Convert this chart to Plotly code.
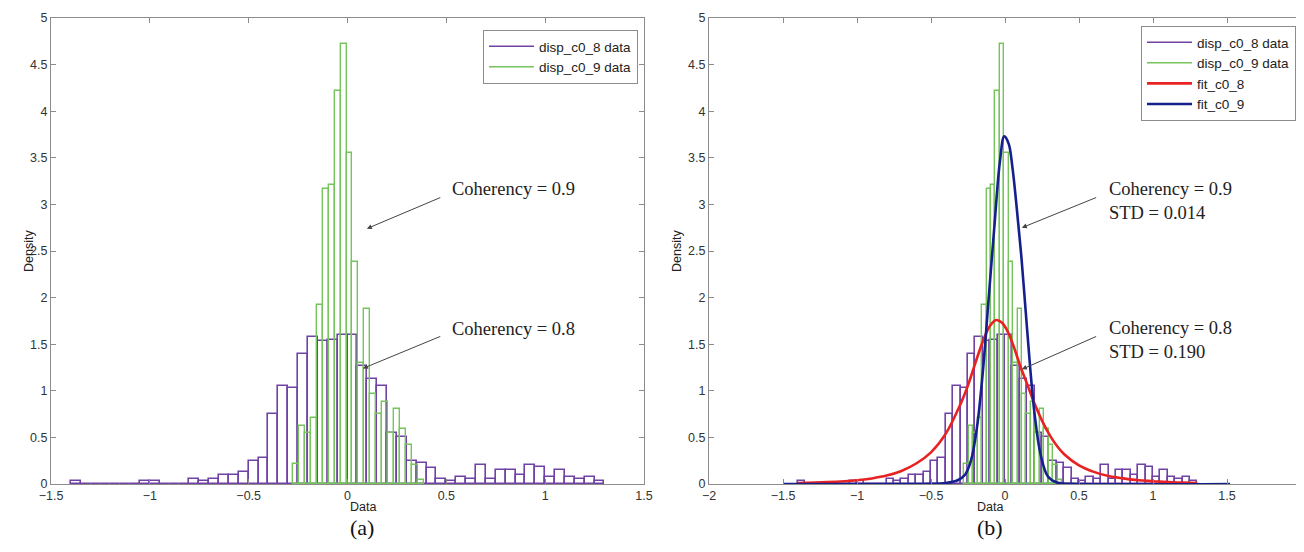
import plotly.graph_objects as go

# ---------------- data ----------------
# disp_c0_8 histogram (bin width 0.05, first edge -1.40)
c08_start = -1.40
c08_width = 0.05
c08_density = [0.03, 0, 0, 0, 0, 0, 0, 0.03, 0.03, 0, 0, 0,
               0.05, 0.03, 0.05, 0.10, 0.10, 0.13, 0.25, 0.28, 0.75, 1.05,
               1.03, 1.40, 1.58, 1.53, 1.55, 1.60, 1.60, 1.27, 1.13, 1.05,
               0.55, 0.50, 0.25, 0.23, 0.17, 0.05, 0.03, 0.08, 0.05, 0.20,
               0.05, 0.15, 0.15, 0.10, 0.20, 0.18, 0.08, 0.15, 0.08, 0.05,
               0.08, 0.03]

# disp_c0_9 histogram (bin width 0.03, first edge -0.275)
c09_start = -0.275
c09_width = 0.03
c09_density = [0.22, 0.62, 0.55, 0.71, 1.92, 3.17, 3.21, 4.22, 4.72, 3.55,
               2.38, 1.30, 1.88, 0.97, 0.75, 0.88, 0.55, 0.80, 0.59, 0.42,
               0.20, 0.04]

# fitted curves (panel b)
fit08_x = [-1.4, -1.2, -1.0, -0.9, -0.8, -0.7, -0.6, -0.5, -0.4, -0.3, -0.25,
           -0.2, -0.15, -0.1, -0.06, -0.02, 0.02, 0.06, 0.1, 0.15, 0.2, 0.25,
           0.3, 0.35, 0.4, 0.5, 0.6, 0.7, 0.8, 0.9, 1.0, 1.1, 1.2, 1.3]
fit08_y = [0.01, 0.02, 0.04, 0.06, 0.09, 0.14, 0.22, 0.34, 0.54, 0.86, 1.06,
           1.30, 1.53, 1.70, 1.76, 1.73, 1.63, 1.47, 1.28, 1.07, 0.86, 0.68,
           0.53, 0.41, 0.32, 0.20, 0.13, 0.085, 0.06, 0.04, 0.03, 0.02, 0.015,
           0.01]
fit09_x = [-1.5, -0.5, -0.4, -0.32, -0.27, -0.23, -0.19, -0.15, -0.11, -0.07,
           -0.035, -0.005, 0.025, 0.05, 0.08, 0.11, 0.14, 0.17, 0.2, 0.24,
           0.29, 0.35, 0.45, 1.52]
fit09_y = [0, 0.002, 0.01, 0.04, 0.10, 0.25, 0.60, 1.20, 2.00, 2.80, 3.45,
           3.73, 3.65, 3.40, 2.95, 2.45, 1.85, 1.25, 0.75, 0.32, 0.08, 0.015,
           0.002, 0]

legend_names = ["disp_c0_8 data", "disp_c0_9 data", "fit_c0_8", "fit_c0_9"]
y_ticks = [0, 0.5, 1, 1.5, 2, 2.5, 3, 3.5, 4, 4.5, 5]
x_ticks_a = [-1.5, -1, -0.5, 0, 0.5, 1, 1.5]
x_ticks_b = [-2, -1.5, -1, -0.5, 0, 0.5, 1, 1.5, 2]

# ---------------- styles ----------------
PURPLE = "rgb(112,66,166)"
GREEN = "rgb(118,196,92)"
RED = "rgb(232,34,34)"
BLUE = "rgb(22,32,140)"
FRAME = "rgb(140,140,140)"
W, H = 1304, 552

c08_centers = [c08_start + c08_width * (i + 0.5) for i in range(len(c08_density))]
c09_centers = [c09_start + c09_width * (i + 0.5) for i in range(len(c09_density))]

fig = go.Figure()

for xa, ya, leg in [("x", "y", "legend"), ("x2", "y2", "legend2")]:
    fig.add_trace(go.Bar(x=c08_centers, y=c08_density, width=c08_width,
                         marker=dict(color="rgba(0,0,0,0)",
                                     line=dict(color=PURPLE, width=1.6)),
                         xaxis=xa, yaxis=ya, showlegend=False, hoverinfo="skip"))
    fig.add_trace(go.Bar(x=c09_centers, y=c09_density, width=c09_width,
                         marker=dict(color="rgba(0,0,0,0)",
                                     line=dict(color=GREEN, width=1.4)),
                         xaxis=xa, yaxis=ya, showlegend=False, hoverinfo="skip"))
    fig.add_trace(go.Scatter(x=[None], y=[None], mode="lines",
                             line=dict(color=PURPLE, width=1.5),
                             name=legend_names[0], xaxis=xa, yaxis=ya, legend=leg))
    fig.add_trace(go.Scatter(x=[None], y=[None], mode="lines",
                             line=dict(color=GREEN, width=1.5),
                             name=legend_names[1], xaxis=xa, yaxis=ya, legend=leg))

fig.add_trace(go.Scatter(x=fit08_x, y=fit08_y, mode="lines",
                         line=dict(color=RED, width=2.6, shape="spline"),
                         name=legend_names[2], xaxis="x2", yaxis="y2", legend="legend2"))
fig.add_trace(go.Scatter(x=fit09_x, y=fit09_y, mode="lines",
                         line=dict(color=BLUE, width=2.6, shape="spline"),
                         name=legend_names[3], xaxis="x2", yaxis="y2", legend="legend2"))

px_x = lambda p: p / W
px_y = lambda p: (H - p) / H

L0, L1 = 43, 636      # left panel plot area (px)
R0, R1 = 701, 1293    # right panel plot area (px)
T, B = 10, 476        # top / bottom of plot areas (px)

dom_y = [px_y(B), px_y(T)]
tickfont = dict(family="Liberation Sans, Arial", size=12.5, color="#333")
axis_common = dict(showline=True, linecolor=FRAME, linewidth=1, mirror="ticks",
                   ticks="inside", ticklen=5, tickcolor=FRAME, showgrid=False,
                   zeroline=False, automargin=False, tickfont=tickfont)
legfont = dict(family="Liberation Sans, Arial", size=13.5, color="#222")

fig.update_layout(
    width=W, height=H, margin=dict(l=0, r=0, t=0, b=0, autoexpand=False),
    paper_bgcolor="white", plot_bgcolor="white", barmode="overlay", bargap=0,
    template="none",
    xaxis=dict(domain=[px_x(L0), px_x(L1)], range=[-1.5, 1.5], tickvals=x_ticks_a,
               anchor="y", **axis_common),
    yaxis=dict(domain=dom_y, range=[0, 5], tickvals=y_ticks, anchor="x", **axis_common),
    xaxis2=dict(domain=[px_x(R0), px_x(R1)], range=[-2, 2], tickvals=x_ticks_b,
                anchor="y2", **axis_common),
    yaxis2=dict(domain=dom_y, range=[0, 5], tickvals=y_ticks, anchor="x2", **axis_common),
    legend=dict(x=px_x(L1 - 6), y=px_y(T + 12), xanchor="right", yanchor="top",
                bordercolor=FRAME, borderwidth=1, bgcolor="white", font=legfont,
                tracegroupgap=0, itemwidth=45),
    legend2=dict(x=px_x(R1 - 5), y=px_y(T + 8), xanchor="right", yanchor="top",
                 bordercolor=FRAME, borderwidth=1, bgcolor="white", font=legfont,
                 tracegroupgap=0, itemwidth=45),
)

ann = []
serif = dict(family="Liberation Serif, Times New Roman", size=18.5, color="#222")
arrow = dict(text="", showarrow=True, arrowhead=2, arrowsize=1, arrowwidth=1,
             arrowcolor="#444")
# panel (a) annotations
ann += [
    dict(x=0.517, y=3.16, xref="x", yref="y", text="Coherency = 0.9", showarrow=False,
         xanchor="left", font=serif),
    dict(x=0.098, y=2.74, ax=0.477, ay=3.08, xref="x", yref="y", axref="x", ayref="y", **arrow),
    dict(x=0.517, y=1.66, xref="x", yref="y", text="Coherency = 0.8", showarrow=False,
         xanchor="left", font=serif),
    dict(x=0.078, y=1.24, ax=0.477, ay=1.59, xref="x", yref="y", axref="x", ayref="y", **arrow),
]
# panel (b) annotations
ann += [
    dict(x=0.687, y=3.04, xref="x2", yref="y2", text="Coherency = 0.9<br>STD = 0.014",
         showarrow=False, xanchor="left", align="left", font=serif),
    dict(x=0.114, y=2.75, ax=0.626, ay=3.08, xref="x2", yref="y2", axref="x2", ayref="y2", **arrow),
    dict(x=0.687, y=1.55, xref="x2", yref="y2", text="Coherency = 0.8<br>STD = 0.190",
         showarrow=False, xanchor="left", align="left", font=serif),
    dict(x=0.114, y=1.23, ax=0.626, ay=1.59, xref="x2", yref="y2", axref="x2", ayref="y2", **arrow),
]
sans = dict(family="Liberation Sans, Arial", size=12.5, color="#222")
paren = dict(family="Liberation Serif, Times New Roman", size=22, color="#111")
LC, RC = (L0 + L1) / 2, (R0 + R1) / 2
ann += [
    dict(x=px_x(LC), y=px_y(508), xref="paper", yref="paper", text="Data", showarrow=False,
         font=sans),
    dict(x=px_x(RC), y=px_y(508), xref="paper", yref="paper", text="Data", showarrow=False,
         font=sans),
    dict(x=px_x(12), y=px_y((T + B) / 2), xref="paper", yref="paper", text="Density",
         showarrow=False, textangle=-90, font=sans),
    dict(x=px_x(669), y=px_y((T + B) / 2), xref="paper", yref="paper", text="Density",
         showarrow=False, textangle=-90, font=sans),
    dict(x=px_x(LC), y=px_y(534), xref="paper", yref="paper", text="(a)", showarrow=False, font=paren),
    dict(x=px_x(RC), y=px_y(534), xref="paper", yref="paper", text="(b)", showarrow=False, font=paren),
]
fig.update_layout(annotations=ann)

fig.write_html("out.html")
